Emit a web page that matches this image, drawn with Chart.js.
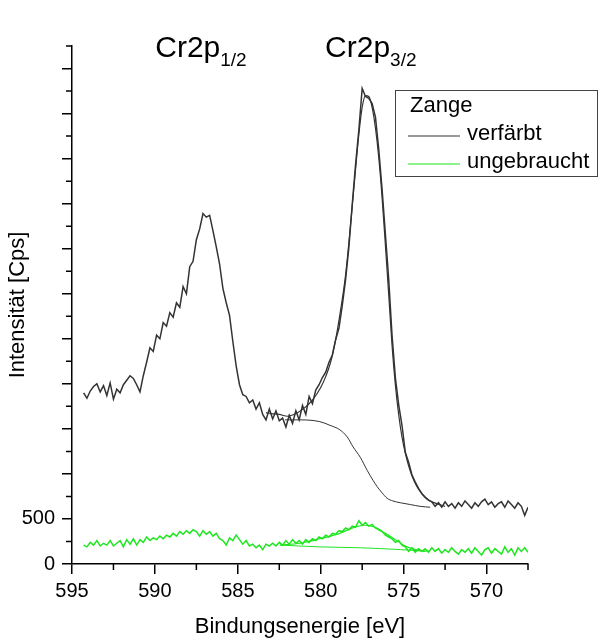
<!DOCTYPE html>
<html>
<head>
<meta charset="utf-8">
<script src="https://cdn.jsdelivr.net/npm/chart.js@4.4.0/dist/chart.umd.min.js"></script>
<style>
  html, body { margin: 0; padding: 0; background: #fff; }
</style>
</head>
<body>
<canvas id="xps" width="600" height="640"></canvas>
<script>
// Bindungsenergie grid of the measured spectra (eV)
const energies = [
  594.3, 594.1, 593.9, 593.7, 593.5, 593.3, 593.1, 592.9, 592.7, 592.5,
  592.3, 592.1, 591.9, 591.7, 591.5, 591.3, 591.1, 590.9, 590.7, 590.5,
  590.3, 590.1, 589.9, 589.7, 589.5, 589.3, 589.1, 588.9, 588.7, 588.5,
  588.3, 588.1, 587.9, 587.7, 587.5, 587.3, 587.1, 586.9, 586.7, 586.5,
  586.3, 586.1, 585.9, 585.7, 585.5, 585.3, 585.1, 584.9, 584.7, 584.5,
  584.3, 584.1, 583.9, 583.7, 583.5, 583.3, 583.1, 582.9, 582.7, 582.5,
  582.3, 582.1, 581.9, 581.7, 581.5, 581.3, 581.1, 580.9, 580.7, 580.5,
  580.3, 580.1, 579.9, 579.7, 579.5, 579.3, 579.1, 578.9, 578.7, 578.5,
  578.3, 578.1, 577.9, 577.7, 577.5, 577.3, 577.1, 576.9, 576.7, 576.5,
  576.3, 576.1, 575.9, 575.7, 575.5, 575.3, 575.1, 574.9, 574.7, 574.5,
  574.3, 574.1, 573.9, 573.7, 573.5, 573.3, 573.1, 572.9, 572.7, 572.5,
  572.3, 572.1, 571.9, 571.7, 571.5, 571.3, 571.1, 570.9, 570.7, 570.5,
  570.3, 570.1, 569.9, 569.7, 569.5, 569.3, 569.1, 568.9, 568.7, 568.5,
  568.3, 568.1, 567.9, 567.7, 567.5
];

// Zange verfärbt - measured counts
const verfaerbtRaw = [
  1900, 1840, 1920, 1970, 2000, 1910, 1980, 1870, 2010, 1830,
  1940, 1900, 1990, 2040, 2090, 2060, 1990, 1910, 2090, 2240,
  2400, 2360, 2540, 2500, 2680, 2640, 2790, 2740, 2900, 2850,
  3080, 3000, 3300, 3360, 3600, 3720, 3890, 3850, 3870, 3700,
  3520, 3330, 3060, 2900, 2760, 2470, 2200, 1990, 1880, 1860,
  1790, 1820, 1720, 1790, 1660, 1600, 1720, 1610, 1700, 1590,
  1620, 1520, 1650, 1560, 1700, 1600, 1760, 1660, 1860, 1780,
  1930, 1990, 2070, 2130, 2240, 2320, 2490, 2620, 2870, 3160,
  3520, 3990, 4430, 4820, 5280, 5190, 5170, 5110, 4960, 4600,
  4160, 3660, 3160, 2540, 2070, 1770, 1540, 1240, 1130, 990,
  910, 840, 780, 740, 710, 690, 640, 680, 630, 690,
  640, 670, 620, 680, 640, 700, 660, 620, 680, 640,
  690, 720, 660, 690, 630, 670, 690, 630, 700, 660,
  620, 680, 640, 540, 630
];

// Zange ungebraucht - measured counts
const ungebrauchtRaw = [
  210, 190, 240, 210, 260, 200, 230, 210, 260, 200,
  230, 260, 190, 270, 220, 280, 210, 270, 240, 300,
  260, 290, 270, 310, 280, 320, 300, 340, 310, 360,
  330, 370, 340, 380, 360, 310, 370, 330, 360, 310,
  340, 280, 260, 210, 290, 260, 320, 270, 220, 260,
  200, 220, 180, 210, 160, 220, 200, 230, 200, 240,
  210, 260, 220, 270, 230, 260, 220, 270, 240, 280,
  260, 300, 280, 320, 300, 340, 330, 370, 360, 400,
  380, 420, 410, 480, 430, 460, 420, 440, 400, 380,
  360, 320, 300, 280, 240, 260, 210, 190, 140, 180,
  130, 170, 140, 170, 130, 180, 140, 170, 120, 160,
  130, 180, 140, 110, 160, 130, 170, 120, 180, 140,
  100, 160, 180, 120, 170, 140, 110, 190, 130, 170,
  100, 180, 140, 180, 130
];

// Peak fit envelope and Shirley background, verfärbt
const verfaerbtFitE = [583.3, 583.0, 582.5, 582.0, 581.5, 581.0, 580.5, 580.0, 579.7, 579.4,
  579.1, 578.8, 578.5, 578.2, 577.9, 577.7, 577.5, 577.3, 577.1, 576.9,
  576.7, 576.5, 576.3, 576.1, 575.9, 575.7, 575.5, 575.3, 575.1, 574.9,
  574.7, 574.5, 574.2, 573.9, 573.5, 573.0, 572.5];
const verfaerbtFit = [1680, 1670, 1660, 1640, 1670, 1730, 1820, 1960, 2080, 2240,
  2490, 2820, 3210, 3770, 4380, 4770, 5070, 5200, 5190, 5070,
  4840, 4510, 4070, 3540, 2990, 2430, 1990, 1660, 1410, 1230,
  1090, 980, 860, 780, 710, 670, 640];
const verfaerbtBgE = [582.15, 581.25, 580.05, 579.45, 578.85, 578.4, 578.05, 577.6, 577.2, 576.85,
  576.6, 576.3, 576.0, 575.65, 575.2, 574.6, 574.0, 573.4];
const verfaerbtBg = [1600, 1600, 1580, 1540, 1490, 1410, 1300, 1180, 1040, 930,
  860, 790, 730, 700, 680, 660, 640, 630];

// Peak fit envelope and background, ungebraucht
const ungebrauchtFitE = [582.45, 581.25, 580.05, 578.85, 577.95, 577.35, 576.75, 576.1, 575.5, 574.9, 574.3, 573.7];
const ungebrauchtFit = [210, 230, 280, 340, 410, 430, 410, 340, 270, 200, 160, 140];
const ungebrauchtBgE = [582.45, 580.05, 577.6, 575.2, 573.4];
const ungebrauchtBg = [210, 190, 180, 160, 140];

// axis ticks
const xMajorTicks = [595, 590, 585, 580, 575, 570];
const xMinorTicks = [592.5, 587.5, 582.5, 577.5, 572.5, 567.5];
const yMajorTicks = [0, 500, 1000, 1500, 2000, 2500, 3000, 3500, 4000, 4500, 5000, 5500];
const yMinorTicks = [250, 750, 1250, 1750, 2250, 2750, 3250, 3750, 4250, 4750, 5250, 5750];
const yTickLabels = [0, 500];

const FONT = '"Liberation Sans", Arial, sans-serif';
const BLACK = '#333333';
const GREEN = '#1fe51f';

function toPoints(xs, ys) {
  return xs.map((x, i) => ({ x: x, y: ys[i] }));
}

// minor tick marks on both axes
const minorTicks = {
  id: 'minorTicks',
  afterDraw(chart) {
    const { ctx, chartArea, scales } = chart;
    ctx.save();
    ctx.strokeStyle = '#000';
    ctx.lineWidth = 1.5;
    ctx.beginPath();
    for (const e of xMinorTicks) {
      const px = scales.x.getPixelForValue(e);
      ctx.moveTo(px, chartArea.bottom);
      ctx.lineTo(px, chartArea.bottom + 6);
    }
    for (const v of yMinorTicks) {
      const py = scales.y.getPixelForValue(v);
      ctx.moveTo(chartArea.left, py);
      ctx.lineTo(chartArea.left - 6, py);
    }
    ctx.stroke();
    ctx.restore();
  }
};

// Cr2p peak labels and the boxed legend
const annotations = {
  id: 'annotations',
  afterDraw(chart) {
    const { ctx, chartArea, scales } = chart;
    ctx.save();
    ctx.fillStyle = '#000';
    ctx.textBaseline = 'alphabetic';
    ctx.textAlign = 'left';
    const peaks = [[589.98, '1/2'], [579.74, '3/2']];
    for (const [e, sub] of peaks) {
      const px = scales.x.getPixelForValue(e);
      const py = chartArea.top + 11;
      ctx.font = '30px ' + FONT;
      ctx.fillText('Cr2p', px, py);
      const w = ctx.measureText('Cr2p').width;
      ctx.font = '19px ' + FONT;
      ctx.fillText(sub, px + w, py + 9);
    }

    // legend box
    const bx = 395, by = 90, bw = 202, bh = 86;
    ctx.fillStyle = '#fff';
    ctx.fillRect(bx, by, bw, bh);
    ctx.strokeStyle = '#444';
    ctx.lineWidth = 1;
    ctx.strokeRect(bx + 0.5, by + 0.5, bw, bh);
    ctx.fillStyle = '#000';
    ctx.font = '22px ' + FONT;
    ctx.textBaseline = 'middle';
    ctx.fillText('Zange', 410, 106);
    const entries = chart.data.datasets.filter(d => d.inLegend);
    entries.forEach((d, i) => {
      const y = 134 + i * 28;
      ctx.strokeStyle = d.borderColor;
      ctx.lineWidth = 1.2;
      ctx.beginPath();
      ctx.moveTo(408, y + 2);
      ctx.lineTo(460, y + 2);
      ctx.stroke();
      ctx.fillText(d.label, 467, y);
    });
    ctx.restore();
  }
};

const ctx = document.getElementById('xps').getContext('2d');

new Chart(ctx, {
  type: 'line',
  data: {
    datasets: [
      { label: 'verfärbt', inLegend: true, data: toPoints(energies, verfaerbtRaw), borderColor: BLACK, borderWidth: 1.5 },
      { label: 'verfärbt Fit', data: toPoints(verfaerbtFitE, verfaerbtFit), borderColor: BLACK, borderWidth: 1.2, cubicInterpolationMode: 'monotone' },
      { label: 'verfärbt Untergrund', data: toPoints(verfaerbtBgE, verfaerbtBg), borderColor: BLACK, borderWidth: 1, cubicInterpolationMode: 'monotone' },
      { label: 'ungebraucht', inLegend: true, data: toPoints(energies, ungebrauchtRaw), borderColor: GREEN, borderWidth: 1.5 },
      { label: 'ungebraucht Fit', data: toPoints(ungebrauchtFitE, ungebrauchtFit), borderColor: GREEN, borderWidth: 1.2, cubicInterpolationMode: 'monotone' },
      { label: 'ungebraucht Untergrund', data: toPoints(ungebrauchtBgE, ungebrauchtBg), borderColor: GREEN, borderWidth: 1, cubicInterpolationMode: 'monotone' }
    ]
  },
  options: {
    responsive: false,
    animation: false,
    parsing: true,
    elements: { point: { radius: 0 }, line: { tension: 0 } },
    layout: { padding: { top: 46, right: 72, bottom: 0, left: 0 } },
    plugins: { legend: { display: false }, tooltip: { enabled: false } },
    scales: {
      x: {
        type: 'linear',
        reverse: true,
        min: 567.5,
        max: 595,
        afterBuildTicks: (scale) => { scale.ticks = xMajorTicks.map(v => ({ value: v })); },
        afterFit: (scale) => { scale.height = 76; },
        border: { color: '#000', width: 1.5 },
        grid: { drawOnChartArea: false, tickLength: 10, color: '#000', lineWidth: 1.5 },
        ticks: { color: '#000', padding: 5, font: { family: FONT, size: 20 }, maxRotation: 0, callback: (v) => String(v) },
        title: { display: true, text: 'Bindungsenergie [eV]', color: '#000', font: { family: FONT, size: 22 }, padding: { top: 0, bottom: 0 } }
      },
      y: {
        type: 'linear',
        min: 0,
        max: 5750,
        afterBuildTicks: (scale) => { scale.ticks = yMajorTicks.map(v => ({ value: v })); },
        afterFit: (scale) => { scale.width = 72; },
        border: { color: '#000', width: 1.5 },
        grid: { drawOnChartArea: false, tickLength: 10, color: '#000', lineWidth: 1.5 },
        ticks: { color: '#000', padding: 7, font: { family: FONT, size: 20 }, callback: (v) => yTickLabels.includes(v) ? String(v) : '' },
        title: { display: true, text: 'Intensität [Cps]', color: '#000', font: { family: FONT, size: 22 }, padding: { top: 5, bottom: 0 } }
      }
    }
  },
  plugins: [minorTicks, annotations]
});
</script>
</body>
</html>
